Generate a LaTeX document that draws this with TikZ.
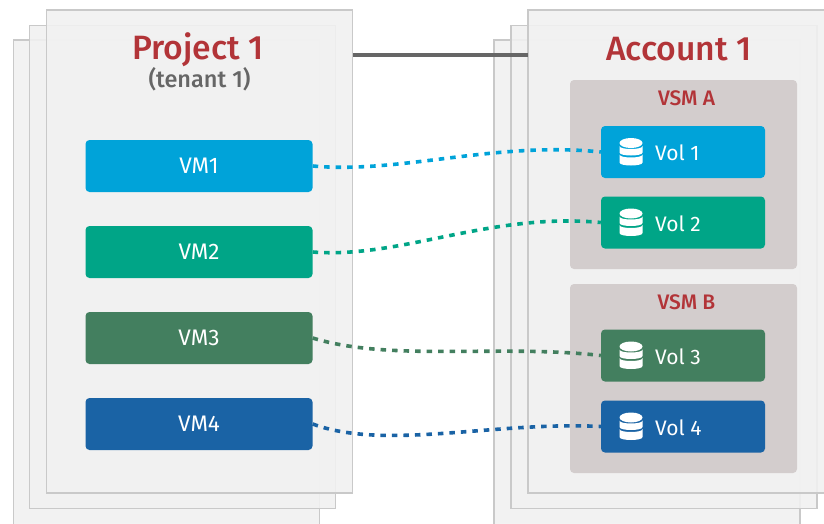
\documentclass[tikz,border=0pt]{standalone}
\usepackage{fontspec}
\setmainfont{Fira Sans}
\newfontfamily\medfont{Fira Sans Medium}
\usepackage{tikz}
\definecolor{panelgray}{HTML}{F1F1F1}
\definecolor{panelline}{HTML}{C9C9C9}
\definecolor{vsmgray}{HTML}{D3CDCD}
\definecolor{titlered}{HTML}{B23438}
\definecolor{linkgray}{HTML}{666666}
\definecolor{cblue}{HTML}{00A3D9}
\definecolor{cteal}{HTML}{00A587}
\definecolor{cgreen}{HTML}{437F5F}
\definecolor{cnavy}{HTML}{1A63A5}
\tikzset{
  panel/.style = {draw = panelline, fill = panelgray, fill opacity = 0.88, line width = 1.6pt, inner sep = 0pt, minimum width = 306pt, minimum height = 483pt},
  vsm/.style = {fill = vsmgray, rounded corners = 4pt, inner sep = 0pt, minimum width = 227pt, minimum height = 189pt},
  vmbox/.style = {rounded corners = 4pt, inner sep = 0pt, minimum width = 227pt, minimum height = 52pt, text = white, font = \fontsize{22.5}{26}\selectfont},
  volbox/.style = {rounded corners = 4pt, inner sep = 0pt, minimum width = 164pt, minimum height = 52pt},
  vollabel/.style = {inner sep = 0pt, anchor = west, text = white, font = \fontsize{21}{25}\selectfont},
  title/.style = {inner sep = 0pt, text = titlered, font = \fontsize{33.7}{40}\selectfont\medfont},
  vsmtitle/.style = {inner sep = 0pt, text = titlered, font = \fontsize{21}{25}\selectfont\medfont},
  volt/.style = {line width = 3.6pt, dash pattern = on 5.5pt off 6pt},
  dbicon/.pic = {
    \fill[white] (0,-9) ellipse (11.5 and 5);
    \fill[white] (-11.5,-6) .. controls (-11.5,-2) and (11.5,-2) .. (11.5,-6) -- (11.5,0.5) .. controls (11.5,4.5) and (-11.5,4.5) .. (-11.5,0.5) -- cycle;
    \fill[white] (-11.5,2.5) .. controls (-11.5,6.5) and (11.5,6.5) .. (11.5,2.5) -- (11.5,10.5) .. controls (11.5,14.5) and (-11.5,14.5) .. (-11.5,10.5) -- cycle;
  }
}
\begin{document}
\begin{tikzpicture}[x = 1pt, y = -1pt]
\clip (0,0) rectangle (824,523);
\fill[white] (0,0) rectangle (824,523);
\draw (166.5,290) node[panel, minimum height = 500pt](p3){}
    (182.5,267) node[panel](p2){}
    (199.5,251.5) node[panel](p1){}
    (647,290) node[panel, minimum height = 500pt](a3){}
    (664,267) node[panel](a2){}
    (681,251.5) node[panel](a1){};
\coordinate (p1link) at (353,55);
\coordinate (a1link) at (528,55);
\draw [-, linkgray, line width = 4pt] (p1link) -- (a1link);
\draw (198,50) node[title](t1){Project 1}
    (199.5,79.5) node[inner sep = 0pt, text = linkgray, font = \fontsize{23.5}{28}\selectfont\medfont](t2){(tenant 1)}
    (679,49.5) node[title](t3){Account 1};
\draw (683.5,174.5) node[vsm](sa){}
    (683.5,378.5) node[vsm](sb){}
    (686.5,98) node[vsmtitle](ta){VSM A}
    (686.5,302) node[vsmtitle](tb){VSM B};
\draw (199,166) node[vmbox, fill = cblue](vm1){VM1}
    (199,252) node[vmbox, fill = cteal](vm2){VM2}
    (199,338) node[vmbox, fill = cgreen](vm3){VM3}
    (199,424) node[vmbox, fill = cnavy](vm4){VM4};
\draw (683,152) node[volbox, fill = cblue](vol1){}
    (683,222.5) node[volbox, fill = cteal](vol2){}
    (683,355.5) node[volbox, fill = cgreen](vol3){}
    (683,426.5) node[volbox, fill = cnavy](vol4){};
\draw (655,153) node[vollabel](l1){Vol 1}
    (655,224) node[vollabel](l2){Vol 2}
    (655,357) node[vollabel](l3){Vol 3}
    (655,428) node[vollabel](l4){Vol 4};
\path (631,152) pic{dbicon}
    (631,222.5) pic{dbicon}
    (631,355.5) pic{dbicon}
    (631,426.5) pic{dbicon};
\draw [volt, cblue] (vm1.east) .. controls (400,174) and (495,141) .. (vol1.west);
\draw [volt, cteal] (vm2.east) .. controls (400,259) and (490,212) .. (vol2.west);
\draw [volt, cgreen] (vm3.east) .. controls (390,362) and (500,344) .. (vol3.west);
\draw [volt, cnavy] (vm4.east) .. controls (385,451) and (495,421) .. (vol4.west);
\end{tikzpicture}
\end{document}
